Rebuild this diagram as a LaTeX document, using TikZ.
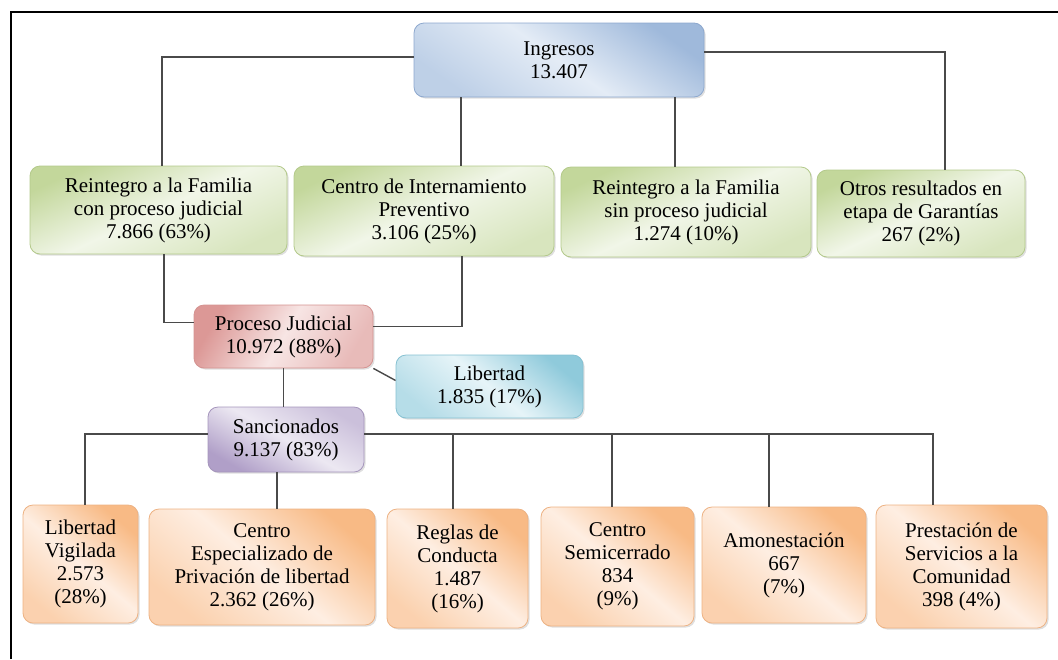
\documentclass[tikz,border=0pt]{standalone}
\usepackage{fontspec}
\setmainfont{Liberation Serif}
\usetikzlibrary{shadows, positioning}

\definecolor{blueDark}{HTML}{9FB9DB}
\definecolor{blueLight}{HTML}{E4ECF6}
\definecolor{blueEdge}{HTML}{8DA8CE}
\definecolor{greenDark}{HTML}{C3D79B}
\definecolor{greenLight}{HTML}{F1F6E8}
\definecolor{greenEdge}{HTML}{B3C98A}
\definecolor{redDark}{HTML}{DC9896}
\definecolor{redLight}{HTML}{F7E5E4}
\definecolor{redEdge}{HTML}{D49391}
\definecolor{cyanDark}{HTML}{8FCADB}
\definecolor{cyanLight}{HTML}{E6F4F8}
\definecolor{cyanEdge}{HTML}{86C1D2}
\definecolor{purpleDark}{HTML}{B09FC8}
\definecolor{purpleLight}{HTML}{ECE8F2}
\definecolor{purpleEdge}{HTML}{A595BC}
\definecolor{orangeDark}{HTML}{F8BA85}
\definecolor{orangeLight}{HTML}{FEEEE2}
\definecolor{orangeEdge}{HTML}{EDB283}
\definecolor{wire}{HTML}{4A4A4A}

\begin{document}
\begin{tikzpicture}[x=0.5pt, y=-0.5pt,
  box/.style={rounded corners=5pt, align=center, line width=0.4pt, inner sep=2pt,
    font=\fontsize{10.5}{11.5}\selectfont, text=black,
    drop shadow={opacity=0.25, shadow xshift=0.8pt, shadow yshift=-0.8pt}},
  tint/.style n args={3}{draw=#1Edge, top color=#1Dark, bottom color=#1Dark!55!#1Light,
    middle color=#1Light, shading angle=#2, #3},
  blueBox/.style={box, tint={blue}{-35}{}},
  greenBox/.style={box, tint={green}{25}{}},
  redBox/.style={box, tint={red}{60}{}},
  cyanBox/.style={box, tint={cyan}{-40}{}},
  purpleBox/.style={box, tint={purple}{150}{}},
  orangeBox/.style={box, tint={orange}{-40}{}},
  link/.style={draw=wire, line width=0.7pt}]
\useasboundingbox (0,0) rectangle (1058,659);

% frame
\draw[line width=1.2pt] (11,659) -- (11,12) -- (1058,12);

% top level
\node[blueBox, minimum width=145pt, minimum height=37pt] (ingresos) at (559,60) {Ingresos\\13.407};

\node[greenBox, minimum width=128.5pt, minimum height=44pt] (reinCon) at (158.5,210) {Reintegro a la Familia\\con proceso judicial\\7.866 (63\%)};
\node[greenBox, minimum width=130pt, minimum height=45pt] (centroInt) at (424,211) {Centro de Internamiento\\Preventivo\\3.106 (25\%)};
\node[greenBox, minimum width=125pt, minimum height=45pt] (reinSin) at (686,212) {Reintegro a la Familia\\sin proceso judicial\\1.274 (10\%)};
\node[greenBox, minimum width=104pt, minimum height=43.5pt] (otros) at (921,213.5) {Otros resultados en\\etapa de Garantías\\267 (2\%)};

% judicial branch
\node[redBox, minimum width=89.5pt, minimum height=31.5pt] (proceso) at (283.5,336.5) {Proceso Judicial\\10.972 (88\%)};
\node[cyanBox, minimum width=93.5pt, minimum height=31.5pt] (libertad) at (489.5,386.5) {Libertad\\1.835 (17\%)};
\node[purpleBox, minimum width=78pt, minimum height=32.5pt] (sancion) at (286,439.5) {Sancionados\\9.137 (83\%)};

% sanctions
\node[orangeBox, minimum width=57.5pt, minimum height=59pt] (vigilada) at (80.5,564) {Libertad\\Vigilada\\2.573\\(28\%)};
\node[orangeBox, minimum width=113pt, minimum height=58pt] (privacion) at (262,567) {Centro\\Especializado de\\Privación de libertad\\2.362 (26\%)};
\node[orangeBox, minimum width=70.5pt, minimum height=59.5pt] (reglas) at (457.5,568.5) {Reglas de\\Conducta\\1.487\\(16\%)};
\node[orangeBox, minimum width=76.5pt, minimum height=59.5pt] (semi) at (617.5,566.5) {Centro\\Semicerrado\\834\\(9\%)};
\node[orangeBox, minimum width=82pt, minimum height=58pt] (amonest) at (784,565) {Amonestación\\667\\(7\%)};
\node[orangeBox, minimum width=85.5pt, minimum height=61.5pt] (servicios) at (961.5,566.5) {Prestación de\\Servicios a la\\Comunidad\\398 (4\%)};

% connectors from Ingresos
\draw[link] ([yshift=1.5pt]ingresos.west) -| ([xshift=1.75pt]reinCon.north);
\draw[link] ([xshift=-49pt]ingresos.south) -- ([xshift=-49pt]ingresos.south |- centroInt.north);
\draw[link] ([xshift=58pt]ingresos.south) -- ([xshift=58pt]ingresos.south |- reinSin.north);
\draw[link] ([yshift=4pt]ingresos.east) -| ([xshift=12pt]otros.north);

% into Proceso Judicial
\draw[link] ([xshift=2.75pt]reinCon.south) |- ([yshift=7pt]proceso.west);
\draw[link] ([xshift=19pt]centroInt.south) |- ([yshift=5pt]proceso.east);
\draw[link] (proceso.south east) -- ([yshift=3pt]libertad.west);
\draw[link] (proceso.south) -- (proceso.south |- sancion.north);

% sanctions bus
\coordinate (bus) at ([yshift=2.75pt]sancion.east);
\draw[link] ([yshift=2.75pt]sancion.west) -| ([xshift=2.25pt]vigilada.north);
\draw[link] (bus) -| ([xshift=-14.25pt]servicios.north);
\foreach \n/\dx in {reglas/-2.25pt, semi/-2.75pt, amonest/-7.5pt}
  \draw[link] ([xshift=\dx]\n.north) -- ([xshift=\dx]\n.north |- bus);
\draw[link] ([xshift=-4.5pt]sancion.south) -- ([xshift=-4.5pt]sancion.south |- privacion.north);
\end{tikzpicture}
\end{document}
